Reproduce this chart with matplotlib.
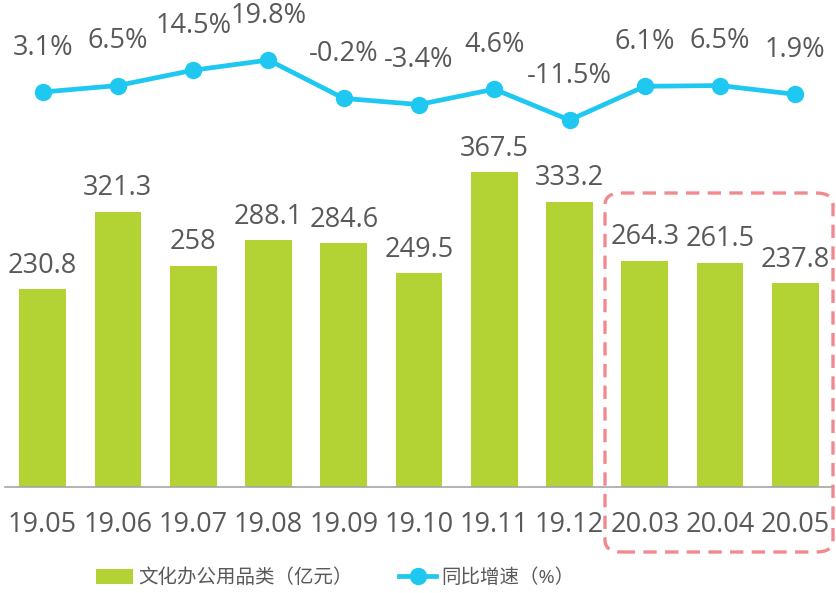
import matplotlib
matplotlib.use('Agg')
import matplotlib.pyplot as plt
from matplotlib.patches import FancyBboxPatch, Patch
from matplotlib.lines import Line2D

plt.rcParams['font.family'] = ['Open Sans', 'Noto Sans CJK SC', 'DejaVu Sans']

# data
months = ['19.05', '19.06', '19.07', '19.08', '19.09', '19.10',
          '19.11', '19.12', '20.03', '20.04', '20.05']
sales = [230.8, 321.3, 258, 288.1, 284.6, 249.5, 367.5, 333.2, 264.3, 261.5, 237.8]
growth = [3.1, 6.5, 14.5, 19.8, -0.2, -3.4, 4.6, -11.5, 6.1, 6.5, 1.9]
growth_labels = ['3.1%', '6.5%', '14.5%', '19.8%', '-0.2%', '-3.4%',
                 '4.6%', '-11.5%', '6.1%', '6.5%', '1.9%']
bar_name = '文化办公用品类（亿元）'
line_name = '同比增速（%）'

bar_color = '#B3D334'
line_color = '#1EC8F0'
text_color = '#595959'

W, H = 836, 593
fig = plt.figure(figsize=(W / 100, H / 100), dpi=100)

# axes in pixel coords: x 5..833, y 10..487 (from top)
left, right, top, bottom = 5, 833, 10, 487
ax = fig.add_axes([left / W, 1 - bottom / H, (right - left) / W, (bottom - top) / H])
x = list(range(len(months)))

ax.bar(x, sales, width=0.62, color=bar_color, zorder=2)
ax.set_xlim(-0.5, len(months) - 0.5)
ax.set_ylim(0, 557)
for xi, v in zip(x, sales):
    ax.annotate(f'{v:g}', (xi, v), xytext=(0, 7), textcoords='offset points',
                ha='center', va='bottom', fontsize=19.5, color=text_color)

ax.set_xticks(x)
ax.set_xticklabels(months, fontsize=19.5, color=text_color)
ax.tick_params(axis='x', length=0, pad=17)
ax.set_yticks([])
for s in ['top', 'right', 'left']:
    ax.spines[s].set_visible(False)
ax.spines['bottom'].set_color('#A6A6A6')
ax.spines['bottom'].set_linewidth(1.2)

ax2 = ax.twinx()
ax2.plot(x, growth, color=line_color, linewidth=3.4, marker='o', markersize=11.5, zorder=3)
ax2.set_ylim(-202.9, 45.9)
ax2.set_yticks([])
for s in ['top', 'right', 'left', 'bottom']:
    ax2.spines[s].set_visible(False)
for xi, v, lab in zip(x, growth, growth_labels):
    ax2.annotate(lab, (xi, v), xytext=(0, 32), textcoords='offset points',
                 ha='center', va='center', fontsize=19.5, color=text_color)

# highlight box around the 2020 months
box = FancyBboxPatch((605 / W, 1 - 552 / H), 228 / W, 359 / H,
                     boxstyle='round,pad=0,rounding_size=0.02',
                     transform=fig.transFigure, fill=False,
                     edgecolor='#F08A8E', linewidth=2.4, linestyle=(0, (4, 2.5)))
fig.patches.append(box)

handles = [Patch(facecolor=bar_color, edgecolor='none'),
           Line2D([0], [0], color=line_color, linewidth=3.4, marker='o', markersize=11.5)]
leg = fig.legend(handles, [bar_name, line_name], loc='center', ncol=2,
                 bbox_to_anchor=(0.401, 0.025), frameon=False, fontsize=14,
                 handlelength=1.9, handleheight=0.8, handletextpad=0.25,
                 columnspacing=2.4)
for t in leg.get_texts():
    t.set_color(text_color)

fig.savefig('out.png', dpi=100)
